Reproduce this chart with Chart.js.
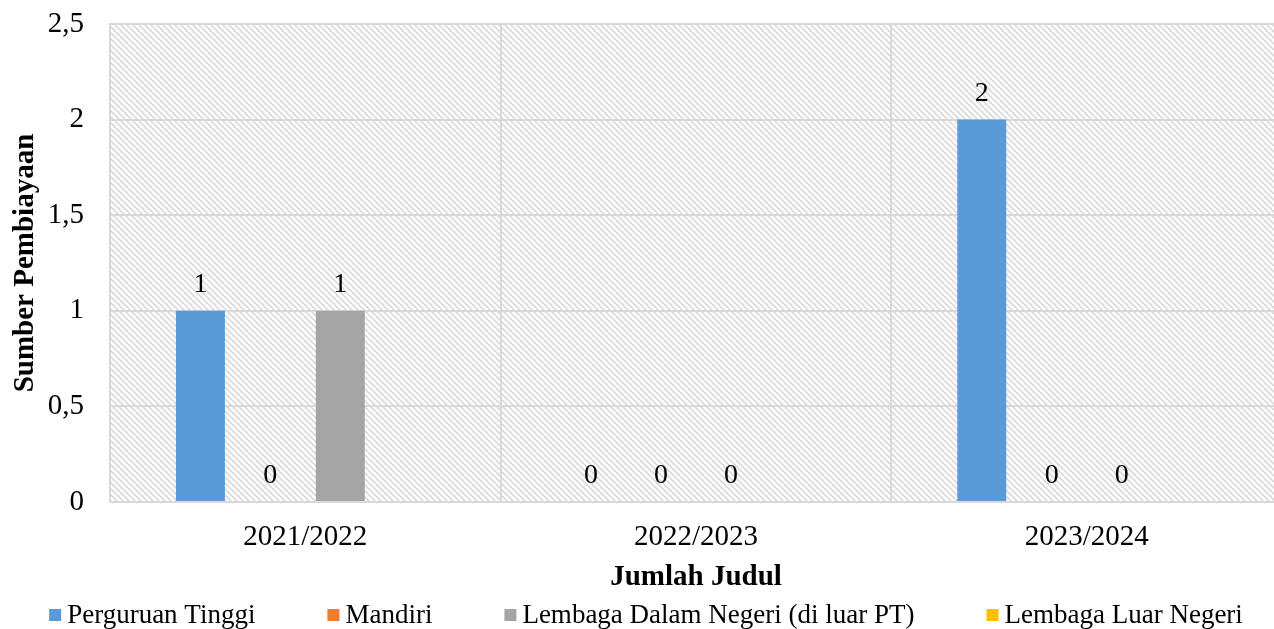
<!DOCTYPE html>
<html>
<head>
<meta charset="utf-8">
<script src="https://cdn.jsdelivr.net/npm/chart.js"></script>
<style>
  html, body { margin: 0; padding: 0; background: #fff; overflow: hidden; }
  #wrap { width: 1292px; height: 629px; }
</style>
</head>
<body>
<div id="wrap"><canvas id="chart"></canvas></div>
<script>
// Data
const categories = ['2021/2022', '2022/2023', '2023/2024'];
const seriesNames = ['Perguruan Tinggi', 'Mandiri', 'Lembaga Dalam Negeri (di luar PT)', 'Lembaga Luar Negeri'];
const perguruanTinggi = [1, 0, 2];
const mandiri = [0, 0, 0];
const lembagaDalamNegeri = [1, 0, 0];
const lembagaLuarNegeri = [null, null, null];
const yTicks = [0, 0.5, 1, 1.5, 2, 2.5];

const colors = ['#5B9BD5', '#ED7D31', '#A5A5A5', '#FFC000'];
const serif = '"Liberation Serif", "Times New Roman", serif';

// Diagonal hatch used behind the plot
function makeHatch() {
  const s = 6;
  const c = document.createElement('canvas');
  c.width = s; c.height = s;
  const g = c.getContext('2d');
  g.strokeStyle = '#d9d9d9';
  g.lineWidth = 1.6;
  g.beginPath();
  g.moveTo(-1, -1); g.lineTo(s + 1, s + 1);
  g.moveTo(-1, s - 1); g.lineTo(1, s + 1);
  g.moveTo(s - 1, -1); g.lineTo(s + 1, 1);
  g.stroke();
  return c;
}

const hatchPlugin = {
  id: 'hatch',
  beforeDraw(chart) {
    const { ctx, chartArea: a } = chart;
    ctx.save();
    ctx.fillStyle = ctx.createPattern(makeHatch(), 'repeat');
    ctx.fillRect(a.left, a.top, a.right - a.left, a.bottom - a.top);
    ctx.restore();
  }
};

// Value labels above bars
const valueLabels = {
  id: 'valueLabels',
  afterDatasetsDraw(chart) {
    const ctx = chart.ctx;
    ctx.save();
    ctx.font = '28px ' + serif;
    ctx.fillStyle = '#000';
    ctx.textAlign = 'center';
    ctx.textBaseline = 'middle';
    chart.data.datasets.forEach((ds, i) => {
      const meta = chart.getDatasetMeta(i);
      meta.data.forEach((bar, j) => {
        const v = ds.data[j];
        if (v === null || v === undefined) return;
        ctx.fillText(String(v), bar.x, bar.y - 26);
      });
    });
    ctx.restore();
  }
};

// Excel-like legend row along the bottom
const bottomLegend = {
  id: 'bottomLegend',
  afterDraw(chart) {
    const ctx = chart.ctx;
    const box = 12, gapText = 6, gapItem = 72, cy = 615;
    ctx.save();
    ctx.font = '27px ' + serif;
    ctx.textBaseline = 'middle';
    const items = chart.data.datasets.map(ds => ({ text: ds.label, color: ds.backgroundColor, w: ctx.measureText(ds.label).width }));
    const total = items.reduce((s, it) => s + box + gapText + it.w, 0) + gapItem * (items.length - 1);
    let x = chart.width / 2 - total / 2;
    items.forEach(it => {
      ctx.fillStyle = it.color;
      ctx.fillRect(x, cy - box / 2, box, box);
      ctx.fillStyle = '#000';
      ctx.fillText(it.text, x + box + gapText, cy + 1);
      x += box + gapText + it.w + gapItem;
    });
    ctx.restore();
  }
};

const datasets = [perguruanTinggi, mandiri, lembagaDalamNegeri, lembagaLuarNegeri].map((d, i) => ({
  label: seriesNames[i],
  data: d,
  backgroundColor: colors[i],
  borderWidth: 0,
  barPercentage: 0.7,
  categoryPercentage: 0.716
}));

new Chart(document.getElementById('chart'), {
  type: 'bar',
  data: { labels: categories, datasets },
  plugins: [hatchPlugin, valueLabels, bottomLegend],
  options: {
    responsive: true,
    maintainAspectRatio: false,
    animation: false,
    layout: { padding: { left: 0, right: 10, top: 24, bottom: 0 } },
    plugins: {
      legend: { display: false },
      tooltip: { enabled: false }
    },
    scales: {
      x: {
        afterFit(scale) { scale.height = 127; },
        grid: { color: '#d9d9d9', lineWidth: 2, offset: true, drawTicks: false },
        border: { color: '#d9d9d9', width: 2 },
        ticks: { font: { family: serif, size: 29 }, color: '#000', padding: 18 },
        title: { display: true, text: 'Jumlah Judul', font: { family: serif, size: 29, weight: 'bold' }, color: '#000', padding: { top: 4, bottom: 34 } }
      },
      y: {
        min: 0, max: 2.5,
        afterFit(scale) { scale.width = 110; scale.paddingTop = 0; scale.paddingBottom = 0; },
        afterBuildTicks(scale) { scale.ticks = yTicks.map(v => ({ value: v })); },
        grid: { color: '#d9d9d9', lineWidth: 2, drawTicks: false },
        border: { color: '#d9d9d9', width: 2 },
        ticks: {
          font: { family: serif, size: 29 }, color: '#000', padding: 26,
          callback: v => String(v).replace('.', ',')
        },
        title: { display: true, text: 'Sumber Pembiayaan', font: { family: serif, size: 29, weight: 'bold' }, color: '#000', padding: { top: 8, bottom: 0 } }
      }
    }
  }
});
</script>
</body>
</html>
